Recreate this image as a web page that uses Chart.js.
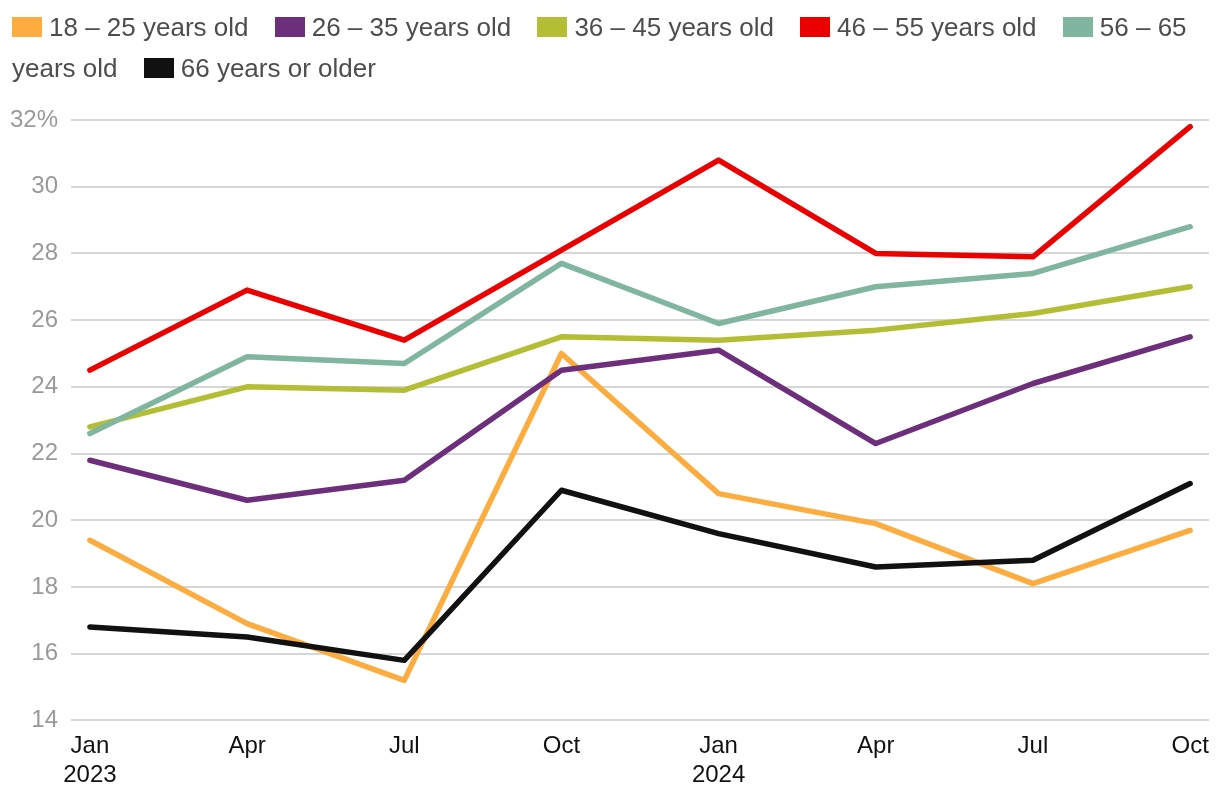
<!DOCTYPE html>
<html>
<head>
<meta charset="utf-8">
<script src="https://cdn.jsdelivr.net/npm/chart.js@4"></script>
<style>
  html, body { margin: 0; padding: 0; background: #fff; overflow: hidden; }
  #wrap { position: relative; width: 1220px; height: 796px; overflow: hidden; }
  #chart { position: absolute; left: 0; top: 0; }
  #legend {
    position: absolute; left: 12px; top: 7px; width: 1200px;
    font-family: "Liberation Sans", Arial, Helvetica, sans-serif;
    font-size: 26px; line-height: 41px; color: #4d4d4d;
  }
  #legend .sw {
    display: inline-block; width: 30px; height: 20px;
    margin-right: 7px; vertical-align: -1px;
  }
  #legend .lbl { margin-right: 19px; }
</style>
</head>
<body>
<div id="wrap">
  <canvas id="chart" width="1220" height="798"></canvas>
  <div id="legend"></div>
</div>
<script>
// quarterly share by age group, Jan 2023 – Oct 2024
const xLabels = [["Jan", "2023"], "Apr", "Jul", "Oct", ["Jan", "2024"], "Apr", "Jul", "Oct"];
const yTicks  = [14, 16, 18, 20, 22, 24, 26, 28, 30, 32];

const seriesNames  = ["18 – 25 years old", "26 – 35 years old", "36 – 45 years old",
                      "46 – 55 years old", "56 – 65 years old", "66 years or older"];
const seriesColors = ["#fdac40", "#6d2e7c", "#b4be35", "#eb0000", "#80b5a0", "#111111"];

const age18to25 = [19.4, 16.9, 15.2, 25.0, 20.8, 19.9, 18.1, 19.7];
const age26to35 = [21.8, 20.6, 21.2, 24.5, 25.1, 22.3, 24.1, 25.5];
const age36to45 = [22.8, 24.0, 23.9, 25.5, 25.4, 25.7, 26.2, 27.0];
const age46to55 = [24.5, 26.9, 25.4, 28.1, 30.8, 28.0, 27.9, 31.8];
const age56to65 = [22.6, 24.9, 24.7, 27.7, 25.9, 27.0, 27.4, 28.8];
const age66plus = [16.8, 16.5, 15.8, 20.9, 19.6, 18.6, 18.8, 21.1];

const seriesValues = [age18to25, age26to35, age36to45, age46to55, age56to65, age66plus];
const drawOrder    = [5, 4, 3, 1, 2, 0]; // lower = drawn on top

// ── HTML legend (wraps like running text) ──────────────────
const legendEl = document.getElementById("legend");
legendEl.innerHTML = seriesNames.map((name, i) =>
  '<span class="sw" style="background:' + seriesColors[i] + '"></span>' +
  '<span class="lbl">' + name + '</span> '
).join("");

// ── Chart ──────────────────────────────────────────────────
const datasets = seriesValues.map((vals, i) => ({
  label: seriesNames[i],
  data: vals.map((v, j) => ({ x: j, y: v })),
  borderColor: seriesColors[i],
  backgroundColor: seriesColors[i],
  borderWidth: 5.5,
  borderCapStyle: "round",
  borderJoinStyle: "round",
  pointRadius: 0,
  tension: 0,
  order: drawOrder[i]
}));

new Chart(document.getElementById("chart").getContext("2d"), {
  type: "line",
  data: { datasets: datasets },
  options: {
    responsive: false,
    animation: false,
    layout: { padding: { top: 120, left: -3, right: 11, bottom: 4 } },
    plugins: { legend: { display: false }, tooltip: { enabled: false } },
    scales: {
      x: {
        type: "linear",
        min: -0.12,
        max: xLabels.length - 1 + 0.12,
        afterBuildTicks: scale => { scale.ticks = xLabels.map((_, i) => ({ value: i })); },
        grid: { display: false },
        border: { display: false },
        ticks: {
          autoSkip: false,
          maxRotation: 0,
          padding: 4,
          color: "#111",
          font: { family: "'Liberation Sans', Arial, sans-serif", size: 24, lineHeight: 1.2 },
          callback: v => xLabels[v]
        }
      },
      y: {
        min: yTicks[0],
        max: yTicks[yTicks.length - 1],
        afterBuildTicks: scale => { scale.ticks = yTicks.map(v => ({ value: v })); },
        grid: { color: "#d3d7d7", lineWidth: 2, drawTicks: false },
        border: { display: false },
        ticks: {
          padding: 13,
          color: "#999",
          font: { family: "'Liberation Sans', Arial, sans-serif", size: 24 },
          callback: v => v === yTicks[yTicks.length - 1] ? v + "%" : v
        }
      }
    }
  }
});
</script>
</body>
</html>
